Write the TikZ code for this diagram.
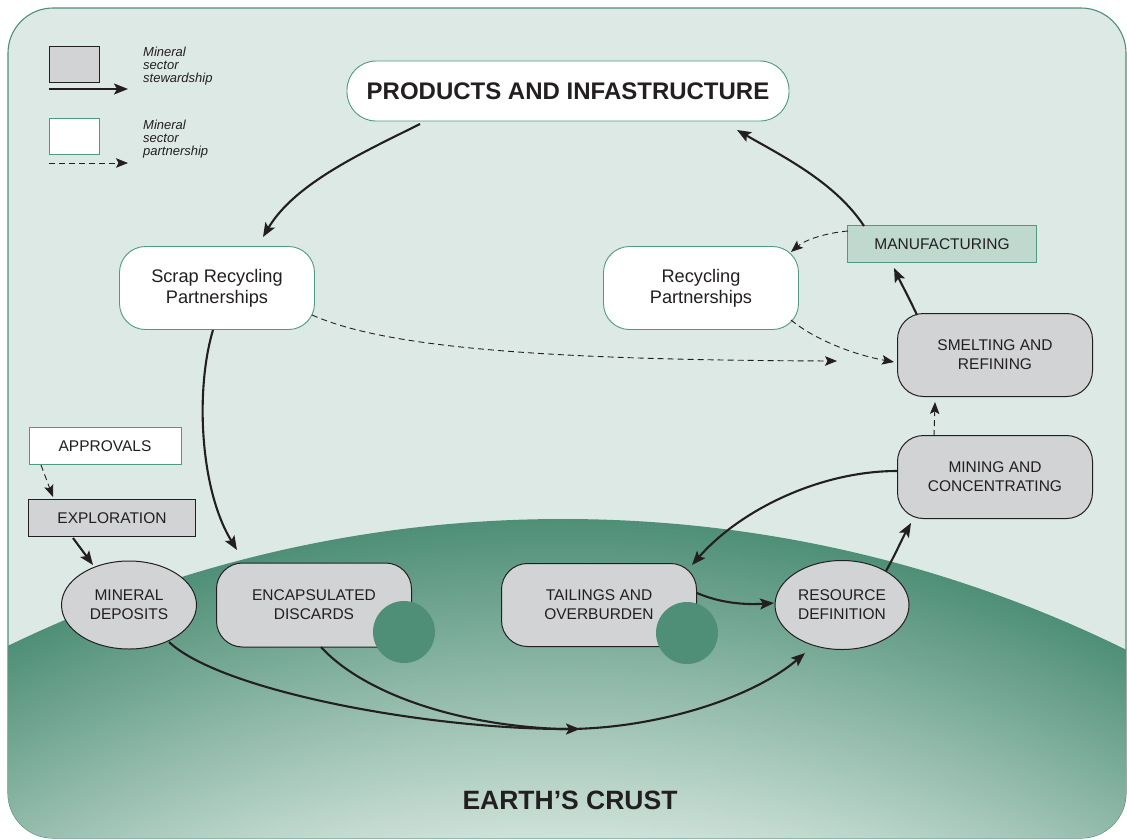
\documentclass[tikz,border=0pt]{standalone}
\usepackage{fontspec}
\setmainfont{Liberation Sans}
\usetikzlibrary{arrows.meta,shapes.geometric}
\definecolor{bgc}{HTML}{DDE9E5}
\definecolor{frc}{HTML}{4F8F78}
\definecolor{grayf}{HTML}{D1D3D4}
\definecolor{ink}{HTML}{231F20}
\definecolor{gline}{HTML}{4F9A80}
\definecolor{manf}{HTML}{C0D9CF}
\definecolor{crustlight}{HTML}{CFE2DA}
\definecolor{crustdark}{HTML}{4F8F78}
\definecolor{blob}{HTML}{4F8F78}
\pgfdeclareradialshading{crustsh}{\pgfpoint{0bp}{0bp}}{color(0bp)=(crustlight); color(951bp)=(crustlight); color(1270bp)=(crustdark); color(1300bp)=(crustdark)}
\newcommand\mycapsfont{\fontsize{15.5}{19}\selectfont}
\newcommand\mymixfont{\fontsize{18.2}{21}\selectfont}
\newcommand\mylegfont{\fontsize{13}{13.3}\selectfont\itshape}
\begin{document}
\begin{tikzpicture}[x=1pt,y=-1pt,
  graybox/.style={draw=ink, line width=1pt, fill=grayf, rounded corners=26pt, minimum width=195pt, minimum height=83pt, inner sep=0pt, align=center, font=\mycapsfont, text=ink},
  whitebox/.style={draw=gline, line width=0.9pt, fill=white, rounded corners=26pt, minimum width=195pt, minimum height=83pt, inner sep=0pt, align=center, font=\mymixfont, text=ink},
  grayell/.style={ellipse, draw=ink, line width=1pt, fill=grayf, inner sep=0pt, align=center, font=\mycapsfont, text=ink},
  flatbox/.style={rectangle, line width=0.9pt, minimum height=37pt, inner sep=0pt, font=\mycapsfont, text=ink},
  blobnode/.style={circle, fill=blob, minimum size=62pt, inner sep=0pt},
  sarrow/.style={draw=ink, line width=2.1pt, -{Stealth[length=14pt,width=11pt,inset=3pt]}},
  darrow/.style={draw=ink, line width=0.9pt, dash pattern=on 6pt off 4pt, -{Stealth[length=12pt,width=9.5pt,inset=2.5pt]}},
  legtext/.style={anchor=west, inner sep=0pt, align=left, font=\mylegfont, text=ink}
]
\useasboundingbox (0,0) rectangle (1127,839);
% frame
\fill[white] (0,0) rectangle (1127,839);
\draw[frc, line width=1.1pt, fill=bgc, rounded corners=45pt] (8,8) rectangle (1126,838);
% earth's crust
\begin{scope}
  \clip[rounded corners=45pt] (8,8) rectangle (1126,838);
  \clip (563,1794) circle [radius=1275pt];
  \begin{pgfscope}
    \pgftransformshift{\pgfpoint{563pt}{-1794pt}}
    \pgflowlevelsynccm
    \pgfuseshading{crustsh}
  \end{pgfscope}
\end{scope}
\node[font=\bfseries\fontsize{26.5}{30}\selectfont, text=ink] (crust) at (570,800) {EARTH’S CRUST};

% legend
\node[flatbox, draw=ink, fill=grayf, minimum width=50pt, minimum height=36pt] (lg1) at (74,64) {};
\node[flatbox, draw=gline, fill=white, minimum width=50pt, minimum height=36pt] (lg2) at (74,136) {};
\coordinate (l1a) at (49,89); \coordinate (l1b) at (128,89);
\coordinate (l2a) at (49,163); \coordinate (l2b) at (128,163);
\draw[sarrow, line width=2pt] (l1a) -- (l1b);
\draw[darrow] (l2a) -- (l2b);
\node[legtext] (lt1) at (143,66) {Mineral\\sector\\stewardship};
\node[legtext] (lt2) at (143,139) {Mineral\\sector\\partnership};

% nodes
\node[draw=gline, line width=0.9pt, fill=white, rounded corners=29pt, minimum width=442pt, minimum height=60pt, inner sep=0pt, font=\bfseries\fontsize{24}{28}\selectfont, text=ink] (prod) at (568,91) {PRODUCTS AND INFASTRUCTURE};
\node[whitebox] (scrap) at (217,288) {Scrap Recycling\\Partnerships};
\node[whitebox] (recyc) at (701,288) {Recycling\\Partnerships};
\node[flatbox, draw=gline, fill=manf, minimum width=189pt] (manuf) at (942,244) {MANUFACTURING};
\node[graybox] (smelt) at (995,355) {SMELTING AND\\REFINING};
\node[graybox] (mining) at (995,477) {MINING AND\\CONCENTRATING};
\node[flatbox, draw=gline, fill=white, minimum width=152pt] (appr) at (105,446) {APPROVALS};
\node[flatbox, draw=ink, fill=grayf, minimum width=167pt] (expl) at (112,518) {EXPLORATION};
\node[grayell, minimum width=135pt, minimum height=88pt] (mineral) at (129,605) {MINERAL\\DEPOSITS};
\node[graybox, minimum height=84pt] (encap) at (314,605) {ENCAPSULATED\\DISCARDS};
\node[graybox] (tail) at (599,605) {TAILINGS AND\\OVERBURDEN};
\node[grayell, minimum width=134pt, minimum height=89pt] (resdef) at (842,605) {RESOURCE\\DEFINITION};
\node[blobnode] (blob1) at (404,632) {};
\node[blobnode] (blob2) at (687,633) {};

% connectors
\draw[sarrow] ([shift={(-148,33)}]prod.center) .. controls (364,152) and (295,183) .. ([shift={(46,-51)}]scrap.center);
\draw[sarrow] ([shift={(-78,-18)}]manuf.center) .. controls (835,182) and (782,156) .. ([shift={(169,39)}]prod.center);
\draw[darrow] ([shift={(-94,-13)}]manuf.center) .. controls (825,233) and (805,240) .. ([shift={(90,-36)}]recyc.center);
\draw[sarrow] ([shift={(-78,-40)}]smelt.center) .. controls (910,300) and (901,283) .. ([shift={(-48,24)}]manuf.center);
\draw[darrow] ([shift={(-61,-41)}]mining.center) -- ([shift={(-60,47)}]smelt.center);
\draw[darrow] ([shift={(90,32)}]recyc.center) .. controls (815,340) and (855,355) .. ([shift={(-101,7)}]smelt.center);
\draw[darrow] ([shift={(95,27)}]scrap.center) .. controls (380,345) and (520,360) .. ([shift={(-158,6)}]smelt.center);
\draw[sarrow] ([shift={(-4,42)}]scrap.center) .. controls (195,390) and (200,490) .. ([shift={(-77,-55)}]encap.center);
\draw[darrow] ([shift={(-64,19)}]appr.center) -- ([shift={(-59,-21)}]expl.center);
\draw[sarrow] ([shift={(-39,20)}]expl.center) -- ([shift={(-36,-40)}]mineral.center);
\draw[sarrow] ([shift={(-98,-6)}]mining.center) .. controls (820,471) and (740,510) .. ([shift={(93,-40)}]tail.center);
\draw[sarrow] ([shift={(98,-12)}]tail.center) .. controls (720,603) and (745,605) .. ([shift={(-68,-2)}]resdef.center);
\draw[sarrow] ([shift={(44,-34)}]resdef.center) .. controls (895,555) and (903,537) .. ([shift={(-84,46)}]mining.center);
\coordinate (J) at (561,729);
\coordinate (Jtip) at (580,729);
\draw[sarrow] ([shift={(40,37)}]mineral.center) .. controls (220,690) and (420,728) .. (J) -- (Jtip);
\draw[draw=ink, line width=2.1pt] ([shift={(7,42)}]encap.center) .. controls (360,690) and (450,725) .. (J);
\draw[sarrow] (J) .. controls (650,730) and (750,700) .. ([shift={(-37,48)}]resdef.center);
\end{tikzpicture}
\end{document}
